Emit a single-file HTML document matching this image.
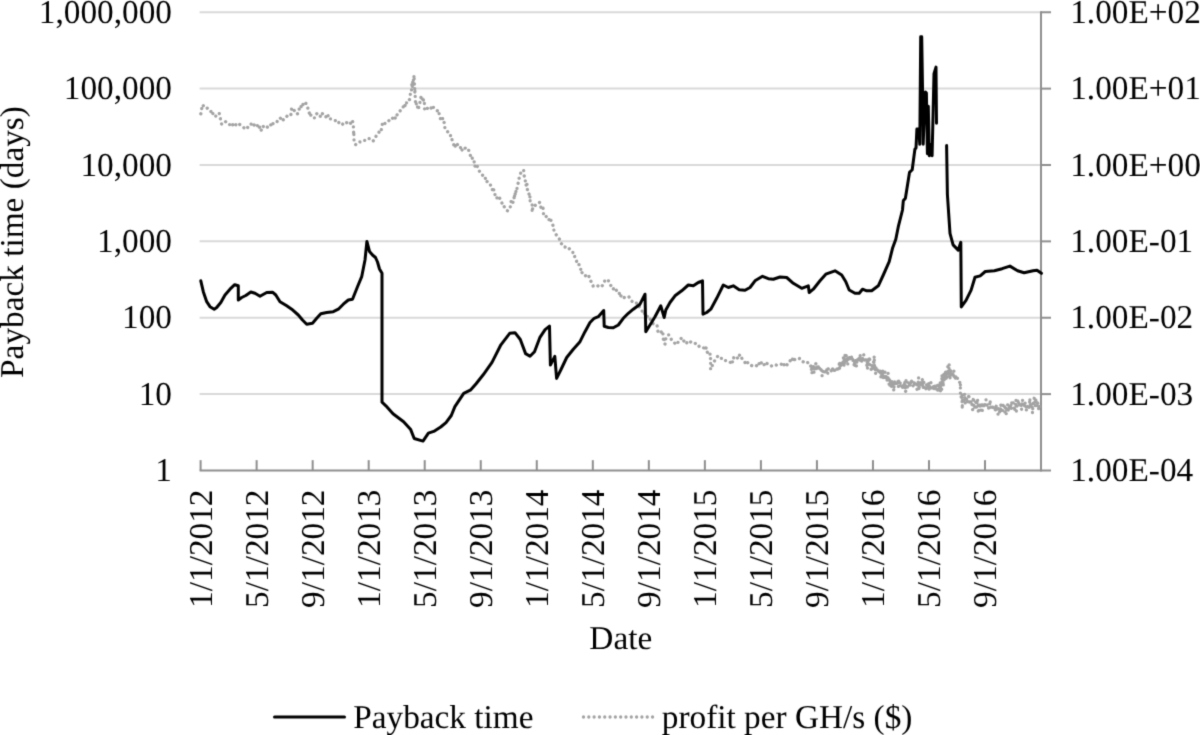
<!DOCTYPE html><html><head><meta charset="utf-8"><style>html,body{margin:0;padding:0;background:#fff;}svg{display:block;}#w{width:1200px;height:735px;}text{font-family:"Liberation Serif",serif;fill:#000;text-rendering:geometricPrecision;}</style></head><body><div id="w">
<svg width="1200" height="735" viewBox="0 0 1200 735" font-size="33.3"><defs><filter id="bl" x="0" y="0" width="1200" height="735" filterUnits="userSpaceOnUse" color-interpolation-filters="sRGB"><feConvolveMatrix order="3" kernelMatrix="0.0192 0.1001 0.0192 0.1001 0.5228 0.1001 0.0192 0.1001 0.0192" edgeMode="duplicate"/></filter></defs><g filter="url(#bl)"><rect width="1200" height="735" fill="#fff"/>
<line x1="199.6" y1="12.25" x2="1041" y2="12.25" stroke="#d9d9d9" stroke-width="2"/>
<line x1="199.6" y1="88.62" x2="1041" y2="88.62" stroke="#d9d9d9" stroke-width="2"/>
<line x1="199.6" y1="164.99" x2="1041" y2="164.99" stroke="#d9d9d9" stroke-width="2"/>
<line x1="199.6" y1="241.36" x2="1041" y2="241.36" stroke="#d9d9d9" stroke-width="2"/>
<line x1="199.6" y1="317.73" x2="1041" y2="317.73" stroke="#d9d9d9" stroke-width="2"/>
<line x1="199.6" y1="394.1" x2="1041" y2="394.1" stroke="#d9d9d9" stroke-width="2"/>
<line x1="199.6" y1="470.45" x2="1051" y2="470.45" stroke="#8e8e8e" stroke-width="2"/>
<line x1="1041" y1="11.25" x2="1041" y2="471.45" stroke="#8e8e8e" stroke-width="2"/>
<line x1="200.6" y1="470.45" x2="200.6" y2="460.15" stroke="#8e8e8e" stroke-width="2"/>
<line x1="256.63" y1="470.45" x2="256.63" y2="460.15" stroke="#8e8e8e" stroke-width="2"/>
<line x1="312.66" y1="470.45" x2="312.66" y2="460.15" stroke="#8e8e8e" stroke-width="2"/>
<line x1="368.69" y1="470.45" x2="368.69" y2="460.15" stroke="#8e8e8e" stroke-width="2"/>
<line x1="424.72" y1="470.45" x2="424.72" y2="460.15" stroke="#8e8e8e" stroke-width="2"/>
<line x1="480.75" y1="470.45" x2="480.75" y2="460.15" stroke="#8e8e8e" stroke-width="2"/>
<line x1="536.78" y1="470.45" x2="536.78" y2="460.15" stroke="#8e8e8e" stroke-width="2"/>
<line x1="592.81" y1="470.45" x2="592.81" y2="460.15" stroke="#8e8e8e" stroke-width="2"/>
<line x1="648.84" y1="470.45" x2="648.84" y2="460.15" stroke="#8e8e8e" stroke-width="2"/>
<line x1="704.87" y1="470.45" x2="704.87" y2="460.15" stroke="#8e8e8e" stroke-width="2"/>
<line x1="760.9" y1="470.45" x2="760.9" y2="460.15" stroke="#8e8e8e" stroke-width="2"/>
<line x1="816.93" y1="470.45" x2="816.93" y2="460.15" stroke="#8e8e8e" stroke-width="2"/>
<line x1="872.96" y1="470.45" x2="872.96" y2="460.15" stroke="#8e8e8e" stroke-width="2"/>
<line x1="928.99" y1="470.45" x2="928.99" y2="460.15" stroke="#8e8e8e" stroke-width="2"/>
<line x1="985.02" y1="470.45" x2="985.02" y2="460.15" stroke="#8e8e8e" stroke-width="2"/>
<line x1="1041" y1="12.25" x2="1051" y2="12.25" stroke="#8e8e8e" stroke-width="2"/>
<line x1="1041" y1="88.62" x2="1051" y2="88.62" stroke="#8e8e8e" stroke-width="2"/>
<line x1="1041" y1="164.99" x2="1051" y2="164.99" stroke="#8e8e8e" stroke-width="2"/>
<line x1="1041" y1="241.36" x2="1051" y2="241.36" stroke="#8e8e8e" stroke-width="2"/>
<line x1="1041" y1="317.73" x2="1051" y2="317.73" stroke="#8e8e8e" stroke-width="2"/>
<line x1="1041" y1="394.1" x2="1051" y2="394.1" stroke="#8e8e8e" stroke-width="2"/>
<text x="172" y="22.9" text-anchor="end">1,000,000</text>
<text x="172" y="99.2" text-anchor="end">100,000</text>
<text x="172" y="175.6" text-anchor="end">10,000</text>
<text x="172" y="252.0" text-anchor="end">1,000</text>
<text x="172" y="328.3" text-anchor="end">100</text>
<text x="172" y="404.7" text-anchor="end">10</text>
<text x="172" y="481.1" text-anchor="end">1</text>
<text x="1070.2" y="22.9">1.00E+02</text>
<text x="1070.2" y="99.2">1.00E+01</text>
<text x="1070.2" y="175.6">1.00E+00</text>
<text x="1070.2" y="252.0">1.00E-01</text>
<text x="1070.2" y="328.3">1.00E-02</text>
<text x="1070.2" y="404.7">1.00E-03</text>
<text x="1070.2" y="481.1">1.00E-04</text>
<text transform="translate(211.9,489.5) rotate(-90)" text-anchor="end">1/1/2012</text>
<text transform="translate(267.93,489.5) rotate(-90)" text-anchor="end">5/1/2012</text>
<text transform="translate(323.96000000000004,489.5) rotate(-90)" text-anchor="end">9/1/2012</text>
<text transform="translate(379.99,489.5) rotate(-90)" text-anchor="end">1/1/2013</text>
<text transform="translate(436.02000000000004,489.5) rotate(-90)" text-anchor="end">5/1/2013</text>
<text transform="translate(492.05,489.5) rotate(-90)" text-anchor="end">9/1/2013</text>
<text transform="translate(548.0799999999999,489.5) rotate(-90)" text-anchor="end">1/1/2014</text>
<text transform="translate(604.1099999999999,489.5) rotate(-90)" text-anchor="end">5/1/2014</text>
<text transform="translate(660.14,489.5) rotate(-90)" text-anchor="end">9/1/2014</text>
<text transform="translate(716.17,489.5) rotate(-90)" text-anchor="end">1/1/2015</text>
<text transform="translate(772.1999999999999,489.5) rotate(-90)" text-anchor="end">5/1/2015</text>
<text transform="translate(828.2299999999999,489.5) rotate(-90)" text-anchor="end">9/1/2015</text>
<text transform="translate(884.26,489.5) rotate(-90)" text-anchor="end">1/1/2016</text>
<text transform="translate(940.29,489.5) rotate(-90)" text-anchor="end">5/1/2016</text>
<text transform="translate(996.3199999999999,489.5) rotate(-90)" text-anchor="end">9/1/2016</text>
<text x="620.8" y="649" text-anchor="middle">Date</text>
<text transform="translate(22.8,242) rotate(-90)" text-anchor="middle">Payback time (days)</text>
<polyline points="200.8,113.8 201.1,113.1 201.5,110.2 201.8,108.2 202.2,105.4 202.5,104.7 204.6,107.5 206.7,107.3 208.1,109.6 209.4,109.8 210.8,111.4 211.6,112.5 212.5,111.1 213.3,116.3 215.3,116.0 217.2,116.3 219.2,113.3 219.7,114.9 220.2,117.8 220.7,120.1 221.2,123.0 221.7,124.1 223.8,124.1 225.8,121.5 227.9,123.8 230.0,124.8 231.7,122.8 233.3,126.0 235.0,123.8 236.7,125.7 238.3,123.9 240.0,124.7 241.7,126.2 243.4,127.2 245.0,129.0 246.7,129.1 248.3,126.3 250.0,123.9 251.7,124.2 253.3,126.6 255.0,123.3 256.7,124.6 257.7,126.1 258.8,124.5 259.8,128.0 260.8,131.2 262.8,125.9 264.7,128.1 266.7,128.1 268.0,126.0 269.3,126.9 270.7,125.0 272.0,121.9 273.3,124.2 274.6,122.8 275.8,122.1 277.1,121.6 278.3,118.8 280.0,118.7 281.6,116.8 283.3,119.9 285.0,118.3 286.2,117.5 287.5,115.2 288.8,114.6 290.0,114.2 290.9,114.8 291.7,107.8 293.4,109.0 295.0,112.0 296.6,114.2 298.3,113.4 299.4,108.0 300.6,105.4 301.7,108.0 302.7,104.9 303.8,102.9 304.8,104.6 305.8,103.4 306.4,103.6 307.1,105.4 307.7,107.3 308.3,110.7 308.7,110.9 309.1,112.4 309.6,114.1 310.0,112.6 311.7,117.6 313.3,117.8 315.0,117.8 316.7,113.6 318.4,115.2 320.0,117.0 321.7,112.6 323.6,115.2 325.6,117.2 327.5,113.8 328.9,119.3 330.3,118.9 331.7,119.0 333.4,120.0 335.0,120.7 336.7,120.2 338.4,123.0 340.0,121.5 341.7,123.1 343.6,125.1 345.6,123.5 347.5,122.0 348.9,123.9 350.3,123.8 351.7,120.1 352.5,120.8 353.3,124.8 353.4,126.5 353.5,127.9 353.6,132.1 353.7,130.2 353.8,135.3 353.9,133.1 353.9,135.5 354.0,139.3 354.1,141.7 354.2,143.0 355.8,144.7 357.5,143.2 359.2,141.9 361.2,142.1 363.3,140.5 364.8,140.4 366.2,140.0 367.7,138.3 369.2,138.6 371.1,138.6 373.1,141.0 375.0,138.8 376.1,136.0 377.2,134.4 378.3,133.3 378.9,133.0 379.4,129.5 380.0,128.9 381.3,129.8 382.7,121.9 384.0,122.8 385.4,123.8 386.8,122.9 388.3,121.6 389.7,119.5 391.1,120.1 392.6,118.2 394.1,115.8 395.7,118.9 397.2,114.5 398.6,111.8 399.9,111.1 401.3,109.6 402.7,108.8 404.0,103.7 405.4,106.1 406.1,106.6 406.7,101.6 407.4,101.6 408.2,101.6 408.9,99.9 409.7,99.4 410.5,93.0 410.8,93.3 411.0,91.5 411.2,91.2 411.5,90.1 411.9,82.8 412.3,86.9 412.8,81.4 413.2,83.0 413.6,78.1 413.7,78.9 413.9,78.7 414.0,75.0 414.1,77.2 414.2,79.8 414.3,80.5 414.4,81.9 414.5,86.0 414.6,87.0 414.7,86.7 414.8,93.0 414.9,88.9 415.0,93.7 415.1,93.7 415.2,96.0 415.3,98.6 415.4,99.7 415.5,102.0 415.6,100.5 416.1,102.1 416.6,106.8 417.2,105.9 417.7,107.4 418.2,105.0 418.7,107.5 419.2,105.0 419.7,104.5 420.2,99.2 420.7,98.9 421.2,95.6 421.7,96.7 422.4,99.7 423.1,97.7 423.8,103.0 424.0,104.0 424.2,104.1 424.4,103.3 424.6,110.2 424.8,109.8 426.2,108.0 427.5,108.4 428.9,107.4 430.6,109.0 432.3,105.3 434.0,108.5 436.1,110.1 438.1,111.1 438.5,110.2 438.9,111.0 439.3,115.3 439.7,115.6 440.1,117.2 440.9,120.8 441.7,119.9 442.6,118.5 443.4,123.0 444.2,122.4 444.9,128.1 445.5,129.1 446.2,129.4 447.6,131.7 448.9,134.3 450.3,134.5 451.0,138.1 451.6,137.7 452.3,141.1 453.1,143.3 453.9,145.0 454.6,143.1 455.4,146.9 456.9,143.8 458.4,146.0 460.0,145.7 461.5,151.3 463.2,147.2 464.9,148.3 466.6,147.4 467.6,149.3 468.6,150.1 469.7,152.9 470.7,156.9 471.7,155.9 472.2,158.1 472.7,160.4 473.2,160.1 473.8,160.0 474.3,162.6 474.8,166.6 476.2,163.9 477.5,166.8 478.9,170.6 479.9,171.8 480.9,172.2 482.0,174.9 483.0,175.4 483.8,174.9 484.6,175.7 485.4,178.5 486.2,182.3 487.0,181.5 488.0,182.2 489.1,183.7 490.1,183.8 491.1,187.2 491.9,187.3 492.7,191.2 493.6,188.8 494.4,194.5 495.2,194.6 496.2,194.0 497.2,199.2 498.3,199.0 499.3,197.4 500.7,200.4 502.0,203.2 503.4,203.1 504.1,206.5 504.9,208.0 505.6,209.4 506.4,210.4 507.9,210.9 509.5,208.9 510.3,206.9 511.1,201.5 512.0,204.3 512.8,203.3 513.6,199.3 514.0,197.4 514.4,199.4 514.8,192.2 515.2,193.9 515.7,195.2 516.1,188.5 516.5,189.3 516.9,189.5 517.3,184.8 517.7,184.2 518.2,183.1 518.7,178.6 519.2,178.2 519.7,177.0 520.2,176.1 520.7,173.1 522.2,172.0 523.6,169.9 523.9,172.5 524.2,175.9 524.5,176.4 524.9,176.5 525.2,178.1 525.5,185.0 526.0,184.6 526.5,185.8 526.9,182.8 527.4,189.5 528.0,190.9 528.7,194.3 529.3,193.9 529.5,195.1 529.8,197.9 530.0,196.2 530.2,202.5 531.2,203.4 532.1,203.7 532.1,209.1 532.1,212.2 533.1,206.0 534.0,205.7 535.0,205.7 536.0,204.1 537.9,203.2 539.8,202.3 541.2,208.9 542.6,209.2 542.9,207.7 543.3,209.4 543.6,215.9 545.5,215.7 547.4,217.9 548.0,218.3 548.7,217.8 549.3,221.4 550.6,219.3 551.8,223.0 553.1,225.6 553.4,228.4 553.7,228.4 554.0,231.2 555.3,233.7 556.6,235.2 557.9,237.2 558.8,238.4 559.8,239.5 560.7,243.1 561.7,243.9 562.6,244.5 563.6,246.7 565.5,247.1 567.4,246.5 568.8,248.3 570.2,249.5 571.5,251.4 572.7,252.5 574.0,252.4 574.7,256.8 575.3,259.7 576.0,260.7 576.6,261.3 577.3,263.9 577.9,263.4 578.8,263.9 579.8,268.7 580.7,269.1 581.3,273.5 582.0,272.7 582.6,272.3 584.0,273.2 585.5,275.7 586.8,274.3 588.0,274.4 589.3,277.0 590.2,280.3 591.2,281.7 592.1,282.6 593.1,286.0 595.0,285.5 596.9,285.0 598.8,286.6 600.7,287.2 602.6,285.3 603.8,284.1 605.0,279.8 606.2,280.0 607.4,280.1 608.3,280.2 609.3,283.8 610.2,284.7 611.5,286.4 612.7,286.0 614.0,291.4 615.6,290.7 617.2,289.8 618.8,291.5 620.2,297.2 621.7,294.7 623.6,297.2 625.4,298.1 627.3,297.3 628.9,296.8 630.6,300.0 632.2,301.5 633.8,303.3 635.5,303.4 637.1,302.9 638.0,305.6 639.0,306.5 639.9,307.3 640.8,308.5 641.7,309.6 642.6,312.5 643.6,311.4 644.5,313.6 645.7,316.0 647.0,315.4 648.2,318.4 649.4,317.6 651.0,320.6 652.7,323.5 654.3,324.5 655.2,325.0 656.1,326.1 657.1,325.7 658.0,331.9 659.5,330.9 661.0,332.6 661.6,331.3 662.3,334.0 662.9,333.2 663.3,338.9 663.7,341.0 664.1,338.6 664.7,344.4 665.3,343.7 665.9,338.4 666.6,336.6 667.2,336.0 667.8,335.0 669.0,334.9 670.2,338.1 671.5,339.5 672.7,341.2 674.1,342.2 675.5,344.3 676.8,344.7 678.2,341.9 679.4,341.5 680.7,339.0 681.9,337.4 683.3,340.3 684.7,341.9 686.1,344.0 688.0,340.8 689.8,341.1 691.6,342.8 693.5,342.4 695.0,343.1 696.5,344.4 698.1,344.3 699.6,347.4 701.2,347.7 702.9,347.8 704.5,347.8 705.3,350.0 706.2,347.6 707.0,351.6 708.5,354.4 710.0,353.2 710.2,357.4 710.4,359.0 710.6,358.3 710.6,361.9 710.6,363.6 710.6,366.6 710.6,368.7 710.6,369.5 711.3,366.6 712.1,365.9 712.8,364.3 713.6,363.8 714.3,361.4 716.1,358.4 718.0,356.0 719.5,358.2 721.0,358.4 722.6,358.6 724.1,360.8 726.1,360.5 728.2,361.6 730.2,362.5 731.4,359.7 732.7,362.4 733.9,357.0 735.1,357.8 736.6,356.9 738.2,359.0 739.8,354.4 741.3,357.5 742.8,359.7 744.3,361.1 745.9,364.4 747.4,362.2 749.0,364.6 750.7,364.8 752.3,366.1 754.0,365.8 755.8,365.1 757.5,366.4 758.9,363.2 760.3,365.7 761.7,361.6 763.1,362.7 765.0,366.2 766.9,363.5 769.1,364.1 771.3,366.1 773.1,365.0 775.0,364.4 776.9,365.4 778.8,365.3 781.3,364.2 783.0,362.2 784.6,366.3 786.3,366.5 787.8,363.0 789.4,362.3 790.6,360.0 791.9,361.5 793.1,357.0 795.0,360.1 796.9,359.3 800.0,358.4 802.2,361.1 804.4,362.6 806.0,361.8 807.5,362.1 809.0,365.6 810.6,365.6 810.9,366.8 811.2,370.3 811.4,369.6 811.7,365.7 812.0,373.3 812.3,367.7 812.5,370.1 812.8,366.8 813.1,368.7 813.6,364.1 814.0,373.1 814.5,371.9 815.0,365.0 815.5,364.1 816.0,363.6 816.4,370.7 816.9,366.3 817.3,367.7 817.7,367.3 818.1,368.1 818.5,365.9 818.8,369.1 819.2,365.6 819.6,369.5 820.0,370.8 820.4,371.6 820.7,370.1 821.1,368.7 821.4,371.8 821.8,370.5 822.1,376.2 822.5,374.5 822.9,372.0 823.3,370.9 823.8,370.0 824.2,369.2 824.6,370.5 825.0,372.0 825.5,372.4 825.9,372.3 826.3,373.1 826.8,369.8 827.2,370.6 827.7,374.0 828.1,368.4 828.6,370.0 829.0,370.8 829.5,370.8 829.9,371.1 830.4,370.3 830.8,371.0 831.3,370.7 831.8,371.4 832.2,368.1 832.7,369.2 833.1,370.2 833.6,368.8 834.0,368.7 834.5,370.6 834.9,368.9 835.4,370.4 835.8,370.4 836.3,369.8 836.7,369.7 837.1,368.6 837.5,366.8 838.0,368.1 838.4,369.2 838.8,365.9 838.9,366.7 839.1,368.8 839.2,363.5 839.4,367.6 839.5,370.8 839.7,363.1 839.9,364.7 840.0,363.3 840.5,368.3 841.0,364.4 841.4,366.0 841.9,361.1 842.4,362.9 842.8,362.8 843.3,357.3 843.8,366.8 844.0,364.8 844.2,356.4 844.3,363.4 844.5,360.3 844.7,361.6 844.9,360.9 845.0,354.9 845.2,358.3 845.4,363.0 845.6,356.3 845.8,354.6 845.9,353.1 846.1,353.1 846.3,357.3 846.7,361.7 847.1,358.2 847.5,358.0 847.8,364.3 848.2,356.3 848.6,356.2 849.0,360.1 849.4,360.4 849.8,355.9 850.3,355.6 850.7,360.2 851.2,360.2 851.6,355.7 852.1,359.2 852.5,358.4 852.8,361.8 853.1,360.4 853.4,360.9 853.8,360.5 854.1,365.1 854.4,366.5 854.7,361.6 855.0,365.6 855.4,360.6 855.8,362.8 856.1,364.6 856.5,366.6 856.9,360.7 857.3,361.4 857.7,361.9 858.0,356.6 858.4,360.9 858.8,358.6 859.2,361.6 859.7,357.0 860.1,354.3 860.6,360.2 861.0,360.7 861.5,358.2 861.9,362.4 862.3,358.8 862.8,357.6 863.2,360.7 863.7,354.5 864.1,357.0 864.6,358.9 865.0,361.3 865.4,358.6 865.7,360.3 866.1,357.8 866.4,360.9 866.8,365.3 867.1,358.6 867.5,368.0 867.9,359.3 868.2,361.6 868.6,362.4 868.9,365.3 869.3,358.8 869.6,356.5 870.0,364.9 870.4,365.8 870.8,365.6 871.2,371.9 871.5,364.9 871.9,365.3 872.3,367.6 872.7,366.3 873.1,370.4 873.5,362.0 873.8,364.9 874.2,356.0 874.6,369.0 875.0,365.8 875.3,370.0 875.6,374.1 875.9,367.9 876.2,367.5 876.6,367.2 876.9,366.5 877.2,367.5 877.5,371.6 877.8,370.2 878.1,370.6 878.4,370.2 878.8,373.8 879.1,372.9 879.4,371.4 879.7,374.1 880.0,372.0 880.4,369.3 880.8,377.5 881.2,374.8 881.5,370.8 881.9,377.2 882.3,375.3 882.7,369.9 883.1,379.7 883.5,376.1 883.8,378.1 884.2,376.3 884.6,375.6 885.0,371.7 885.3,379.6 885.7,377.1 886.0,376.4 886.4,378.7 886.7,378.2 887.1,380.3 887.4,377.5 887.8,378.9 888.1,372.9 888.5,378.4 888.8,382.0 889.1,384.3 889.4,379.6 889.7,380.6 890.0,386.1 890.3,380.7 890.6,384.2 891.0,387.4 891.3,382.8 891.6,386.7 891.9,381.2 892.2,384.3 892.5,383.8 893.0,384.3 893.4,387.4 893.9,391.1 894.3,381.9 894.8,382.2 895.2,385.4 895.7,380.8 896.1,385.5 896.6,385.7 897.0,383.2 897.5,385.7 897.9,379.5 898.4,386.5 898.8,379.6 899.3,382.2 899.7,382.6 900.2,383.1 900.6,387.0 901.1,384.7 901.5,383.3 902.0,386.1 902.4,389.3 902.9,384.6 903.4,385.7 903.8,388.3 904.3,385.4 904.8,380.7 905.2,392.1 905.7,391.2 906.1,378.6 906.6,384.5 907.1,385.9 907.5,387.5 908.0,386.6 908.5,383.8 908.9,381.4 909.4,384.9 909.9,387.7 910.3,381.3 910.8,381.5 911.2,384.5 911.7,378.8 912.1,383.8 912.6,383.3 913.1,386.0 913.5,382.5 914.0,382.0 914.4,383.4 914.9,384.5 915.3,382.6 915.8,384.6 916.3,386.9 916.7,388.2 917.2,389.8 917.7,382.4 918.1,383.6 918.6,377.4 919.0,390.6 919.5,382.8 920.0,384.9 920.4,386.6 920.9,381.0 921.4,386.5 921.8,385.1 922.3,379.7 922.8,386.1 923.2,388.8 923.7,379.6 924.2,387.6 924.6,385.8 925.1,386.6 925.5,386.5 926.0,389.1 926.5,384.5 926.9,387.8 927.4,384.0 927.9,387.4 928.3,382.8 928.8,384.9 929.3,390.5 929.7,386.7 930.2,385.0 930.6,382.1 931.1,383.3 931.5,386.3 932.0,388.7 932.5,387.2 932.9,387.6 933.4,386.0 933.8,390.3 934.3,385.1 934.7,384.8 935.2,389.2 935.5,387.0 935.9,386.3 936.2,385.7 936.5,387.0 936.8,390.0 937.1,389.5 937.5,385.1 937.8,390.4 938.0,389.2 938.3,385.3 938.5,390.2 938.8,386.6 939.0,386.1 939.3,389.0 939.5,390.2 939.8,383.8 940.0,386.8 940.2,382.4 940.5,391.6 940.7,382.7 941.0,387.4 941.2,381.5 941.5,385.4 941.7,389.3 941.9,374.6 942.2,380.5 942.4,382.9 942.7,380.7 942.9,378.6 943.2,386.7 943.4,380.0 943.7,374.5 943.9,381.6 944.1,373.4 944.4,381.7 944.6,376.1 944.9,377.8 945.1,380.8 945.4,377.0 945.6,372.0 945.9,370.7 946.1,379.0 946.4,377.3 946.7,372.3 947.0,376.9 947.2,375.5 947.5,375.5 947.8,366.5 948.0,372.0 948.3,375.2 948.6,374.3 948.9,374.4 949.1,364.0 949.4,371.5 949.7,372.8 950.0,379.3 950.4,369.1 950.7,371.3 951.0,372.7 951.3,375.6 951.7,371.9 952.0,377.0 952.3,371.6 952.6,375.1 953.0,373.0 953.3,375.4 953.6,373.2 953.9,370.8 954.3,379.2 954.6,377.1 954.9,374.8 955.2,377.5 955.6,380.1 955.9,374.6 956.2,377.5 956.6,379.8 956.9,380.1 957.2,378.6 957.4,377.9 957.7,380.3 957.9,380.2 958.2,380.4 958.4,380.6 958.7,381.3 958.9,381.3 959.2,381.3 959.4,381.9 959.7,382.4 959.9,382.7 960.2,382.8 960.4,384.3 960.4,383.6 960.4,385.2 960.4,384.6 960.4,385.9 960.4,387.0 960.4,386.7 960.4,386.6 960.4,387.5 960.4,388.1 960.4,387.4 960.4,388.5 960.4,389.4 960.4,389.5 960.4,390.3 960.4,391.1 960.4,391.6 960.4,392.1 960.4,392.4 960.4,392.3 960.4,392.9 960.4,393.2 960.4,393.7 960.4,394.2 960.5,393.7 960.7,395.0 960.8,395.7 961.0,395.5 961.1,396.6 961.3,397.4 961.4,397.4 961.5,399.2 961.7,396.9 961.8,398.7 962.0,398.2 962.1,403.0 962.3,409.0 962.4,392.4 962.9,401.1 963.3,402.4 963.8,399.7 964.3,402.5 964.7,393.3 965.2,403.5 965.6,401.9 966.1,400.8 966.6,398.8 967.0,402.8 967.5,399.1 967.9,401.7 968.4,399.5 968.8,393.9 969.2,401.5 969.7,402.5 970.1,404.5 970.5,399.3 971.0,402.3 971.4,404.7 971.8,403.3 972.3,407.2 972.7,409.9 973.1,400.4 973.6,397.2 974.0,406.6 974.4,408.9 974.8,407.1 975.3,406.9 975.7,402.3 976.1,402.1 976.5,407.5 977.0,401.7 977.4,398.9 977.8,401.7 978.3,413.4 978.7,411.7 979.1,403.2 979.5,403.2 980.0,406.5 980.4,403.4 980.9,410.3 981.3,405.8 981.8,402.6 982.3,410.6 982.7,404.4 983.2,407.2 983.6,406.5 984.1,405.6 984.6,407.8 985.0,404.5 985.5,400.8 986.0,399.7 986.4,402.9 986.9,404.7 987.4,407.1 987.8,407.3 988.3,409.0 988.8,407.5 989.2,404.5 989.7,404.7 990.1,400.1 990.6,406.5 991.1,408.6 991.5,408.7 992.0,406.6 992.5,406.4 992.9,410.0 993.4,407.0 993.9,409.5 994.3,409.1 994.8,408.0 995.2,411.8 995.7,405.7 996.1,406.5 996.6,405.2 997.1,405.4 997.5,413.3 998.0,414.1 998.4,408.5 998.9,410.4 999.3,412.5 999.8,411.5 1000.3,412.7 1000.7,404.4 1001.2,406.3 1001.7,409.8 1002.1,413.0 1002.6,408.5 1003.0,405.2 1003.5,406.7 1004.0,405.6 1004.4,404.8 1004.9,412.5 1005.4,405.4 1005.8,407.4 1006.3,414.3 1006.7,410.9 1007.2,408.0 1007.6,404.7 1008.0,407.9 1008.4,411.8 1008.9,408.3 1009.3,410.2 1009.7,406.2 1010.1,407.5 1010.6,404.9 1011.0,406.8 1011.4,409.6 1011.8,400.4 1012.3,404.8 1012.7,405.6 1013.2,402.9 1013.6,403.8 1014.1,407.4 1014.6,411.4 1015.0,406.9 1015.5,405.9 1016.0,399.7 1016.4,411.2 1016.9,405.1 1017.3,404.7 1017.8,401.1 1018.3,404.6 1018.7,401.2 1019.2,405.0 1019.7,406.4 1020.1,405.1 1020.6,406.0 1021.1,402.4 1021.5,410.0 1022.0,403.2 1022.5,399.5 1022.9,405.0 1023.4,403.2 1023.8,402.5 1024.3,404.7 1024.8,407.0 1025.2,402.2 1025.7,405.7 1026.2,410.9 1026.6,408.5 1027.1,405.7 1027.5,406.6 1028.0,405.8 1028.4,406.0 1028.9,408.6 1029.4,405.9 1029.8,398.3 1030.3,406.1 1030.7,403.3 1031.2,408.3 1031.6,404.2 1032.1,406.7 1032.5,413.2 1033.0,402.4 1033.4,402.0 1033.8,400.9 1034.3,397.5 1034.7,399.1 1035.1,406.4 1035.6,402.9 1036.0,398.7 1036.4,399.8 1036.9,406.6 1037.3,401.8 1037.7,403.0 1038.2,405.2 1038.6,408.4 1039.0,410.2 1039.5,407.1 1039.9,403.5" fill="none" stroke="#a3a3a3" stroke-width="3.3" stroke-linecap="round" stroke-linejoin="round" stroke-dasharray="0.01 5.3"/>
<polyline points="200.8,280.8 203.3,291.7 206.7,301.7 210.0,306.7 214.2,309.2 216.7,307.5 220.8,302.5 225.0,295.0 230.0,289.2 234.7,284.7 238.3,285.8 238.3,300.0 241.7,297.5 245.8,295.5 250.8,292.0 255.0,293.3 260.0,296.2 266.7,292.5 272.5,292.2 275.8,295.0 280.0,301.7 286.7,305.8 291.7,309.2 298.3,315.0 302.5,320.0 306.7,324.2 312.5,323.3 316.7,318.3 320.8,313.8 326.7,312.5 333.3,311.7 338.3,309.2 343.3,304.2 348.3,300.0 352.5,299.2 357.5,286.7 361.7,276.7 365.0,260.0 366.9,241.5 369.5,251.5 372.5,255.0 375.5,257.5 377.5,262.0 379.5,269.0 382.0,273.3 382.0,402.2 385.9,405.8 393.0,413.7 403.6,421.7 410.7,429.6 414.2,438.5 423.0,441.1 428.4,433.2 433.7,431.4 440.7,427.0 446.0,422.6 451.3,415.5 454.9,406.6 463.7,393.4 470.8,389.8 476.1,383.7 483.2,374.8 492.0,362.4 500.9,344.8 509.7,333.3 515.0,332.7 520.3,339.5 525.6,353.6 530.0,356.3 534.5,351.8 539.8,337.7 545.1,329.7 549.5,326.2 550.4,365.1 554.8,356.3 556.6,378.4 561.0,369.5 566.7,357.5 573.3,349.2 580.0,341.7 585.0,331.7 590.0,322.5 594.2,318.3 598.3,316.7 603.7,310.5 604.2,326.3 608.3,327.5 613.3,327.8 618.3,325.0 623.3,318.3 628.3,313.3 633.3,309.2 640.0,304.2 645.0,294.2 645.8,331.7 650.0,325.0 655.0,316.7 660.8,305.8 664.2,317.5 665.8,310.0 670.0,302.5 675.0,295.8 681.7,290.8 688.3,285.0 693.3,285.8 698.3,282.5 702.5,280.8 703.0,314.2 706.7,312.5 710.8,309.2 716.7,298.3 723.3,285.0 728.3,287.5 733.3,285.8 739.2,289.7 745.0,290.3 750.0,287.5 755.0,280.8 762.5,276.3 768.3,278.7 773.3,279.2 780.0,277.0 786.7,277.5 793.3,283.3 801.7,288.3 808.3,285.8 809.2,292.5 813.3,289.2 820.0,280.8 825.8,274.2 835.0,270.8 841.7,275.0 845.8,281.7 849.2,290.0 855.0,293.3 859.2,293.3 862.5,289.2 866.7,290.8 871.7,290.8 878.3,285.8 883.3,275.0 889.2,261.7 892.5,248.3 895.8,239.2 898.3,226.7 902.5,210.0 903.3,200.8 905.4,198.2 909.5,172.4 912.2,169.7 914.9,149.3 916.0,148.0 916.9,129.0 918.8,129.0 919.8,144.3 920.7,36.7 921.7,36.7 922.6,92.9 923.2,144.3 924.5,106.2 925.5,91.9 926.4,92.9 927.4,153.8 928.3,106.2 929.3,155.7 931.2,144.3 932.1,155.7 934.0,73.8 936.0,67.1 936.5,123.3" fill="none" stroke="#000" stroke-width="3" stroke-linejoin="round" stroke-linecap="round"/>
<polyline points="946.6,145.5 947.4,194.5 950.0,233.3 953.1,244.9 958.2,250.1 960.8,242.3 961.3,306.9 966.0,300.4 971.1,290.1 975.0,277.2 980.2,275.9 985.3,271.5 994.4,270.7 1002.1,268.7 1009.9,266.1 1017.6,270.7 1024.1,272.8 1033.1,270.7 1037.0,270.2 1041.4,273.3" fill="none" stroke="#000" stroke-width="3" stroke-linejoin="round" stroke-linecap="round"/>
<line x1="274.5" y1="717" x2="344.5" y2="717" stroke="#000" stroke-width="3" stroke-linecap="round"/>
<text x="353.2" y="727.7">Payback time</text>
<line x1="583.5" y1="717" x2="654" y2="717" stroke="#a3a3a3" stroke-width="3.3" stroke-linecap="round" stroke-dasharray="0.01 5.3"/>
<text x="661.8" y="727.7">profit per GH/s ($)</text>
</g></svg></div></body></html>
